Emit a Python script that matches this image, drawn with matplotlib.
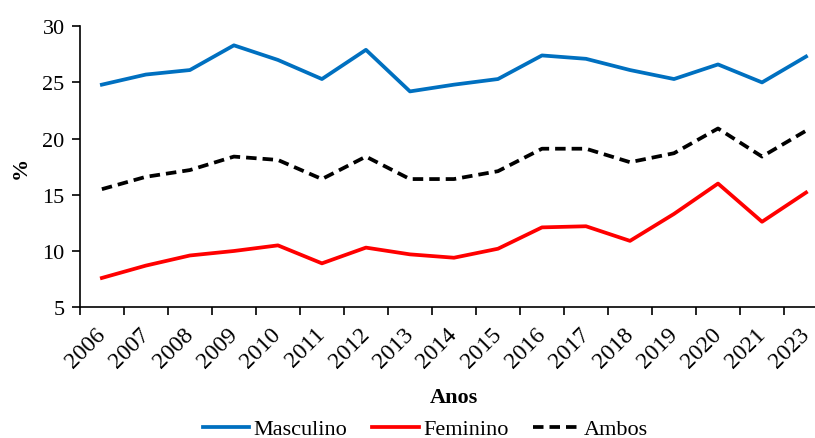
import numpy as np
import matplotlib
matplotlib.use("Agg")
import matplotlib.pyplot as plt

plt.rcParams['font.family'] = ['Liberation Serif', 'DejaVu Serif']

anos = ['2006', '2007', '2008', '2009', '2010', '2011', '2012', '2013', '2014',
        '2015', '2016', '2017', '2018', '2019', '2020', '2021', '2023']
masculino = [24.8, 25.7, 26.1, 28.3, 27.0, 25.3, 27.9, 24.2, 24.8,
             25.3, 27.4, 27.1, 26.1, 25.3, 26.6, 25.0, 27.3]
feminino = [7.6, 8.7, 9.6, 10.0, 10.5, 8.9, 10.3, 9.7, 9.4,
            10.2, 12.1, 12.2, 10.9, 13.3, 16.0, 12.6, 15.2]
ambos = [15.5, 16.6, 17.2, 18.4, 18.1, 16.4, 18.4, 16.4, 16.4,
         17.1, 19.1, 19.1, 17.9, 18.7, 20.9, 18.4, 20.7]

fig = plt.figure(figsize=(8.15, 4.39), dpi=100)
ax = fig.add_axes([0.098, 0.298, 0.918, 0.640])

x = np.arange(len(anos))
ax.plot(x, masculino, color='#0070C0', lw=2.7, label='Masculino')
ax.plot(x, feminino, color='#FF0000', lw=2.7, label='Feminino')
ax.plot(x, ambos, color='black', lw=2.7, ls=(0, (2.8, 1.6)), label='Ambos')

ax.set_xlim(-0.5, len(anos) - 0.5)
ax.set_ylim(5, 30)
ax.set_yticks(np.arange(5, 31, 5))
ax.set_xticks(x)
ax.set_xticklabels(anos, rotation=45, ha='right', va='center', rotation_mode='anchor')
ax.set_xticks(np.arange(-0.5, len(anos)), minor=True)
ax.tick_params(axis='x', which='major', length=0, labelsize=17, pad=17)
ax.tick_params(axis='x', which='minor', length=6, width=1.2, direction='out')
ax.tick_params(axis='y', length=6, width=1.2, direction='out', labelsize=16, pad=5)

for s in ['top', 'right']:
    ax.spines[s].set_visible(False)
for s in ['left', 'bottom']:
    ax.spines[s].set_linewidth(1.2)

ax.set_xlabel('Anos', fontsize=16, fontweight='bold', labelpad=11)
ax.set_ylabel('%', fontsize=16, fontweight='bold', labelpad=8)

fig.legend(loc='center', bbox_to_anchor=(0.522, 0.02), ncol=3, frameon=False,
           fontsize=16, handlelength=2.1, columnspacing=1.1, handletextpad=0.2)

fig.savefig('out.png', dpi=100)
